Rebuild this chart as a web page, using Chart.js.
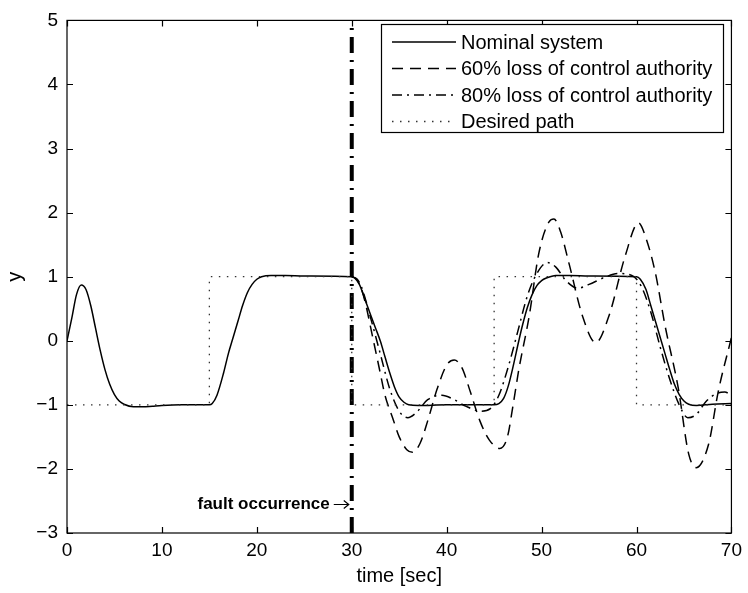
<!DOCTYPE html>
<html>
<head>
<meta charset="utf-8">
<script src="https://cdn.jsdelivr.net/npm/chart.js@4/dist/chart.umd.min.js"></script>
<style>
  html, body { margin: 0; padding: 0; background: #fff; }
  #wrap { width: 748px; height: 593px; }
</style>
</head>
<body>
<div id="wrap"><canvas id="c" width="748" height="593"></canvas></div>
<script>
// ---------- data ----------
const xTicks = [0, 10, 20, 30, 40, 50, 60, 70];
const yTicks = [-3, -2, -1, 0, 1, 2, 3, 4, 5];

const seriesNames = [
  "Nominal system",
  "60% loss of control authority",
  "80% loss of control authority",
  "Desired path"
];

const tNominal = [0, 0.5, 1, 1.5, 2, 2.5, 3, 3.5, 4, 4.5, 5, 5.5, 6, 7, 8, 9, 10, 12, 15,
  15.3, 15.8, 16.5, 17, 17.5, 18, 18.5, 19, 19.5, 20, 20.5, 21.5, 23, 25, 30,
  30.3, 30.8, 31.5, 32, 32.5, 33, 33.5, 34, 34.5, 35, 35.5, 36, 37, 40, 45,
  45.5, 46, 46.5, 47, 47.6, 48, 48.5, 49, 49.5, 50, 50.5, 51.5, 53, 55, 60,
  60.4, 61, 61.5, 62, 62.6, 63, 63.5, 64, 64.5, 65, 65.5, 66.3, 68, 70];
const yNominal = [0, 0.35, 0.72, 0.87, 0.8, 0.55, 0.2, -0.15, -0.45, -0.68, -0.84, -0.94, -0.99, -1.03, -1.03, -1.02, -1.01, -1.0, -1.0,
  -0.98, -0.85, -0.5, -0.2, 0.05, 0.3, 0.55, 0.75, 0.88, 0.96, 1.0, 1.02, 1.02, 1.01, 1.0,
  0.98, 0.88, 0.6, 0.4, 0.2, 0.0, -0.25, -0.5, -0.72, -0.88, -0.96, -1.0, -1.01, -1.0, -1.0,
  -0.98, -0.9, -0.7, -0.4, 0.0, 0.25, 0.52, 0.72, 0.86, 0.94, 0.98, 1.02, 1.02, 1.01, 1.0,
  0.96, 0.8, 0.55, 0.3, 0.0, -0.2, -0.45, -0.68, -0.84, -0.94, -0.99, -1.01, -0.99, -0.98];

const t60 = [30, 30.5, 31, 31.5, 32, 32.5, 33, 33.5, 34.3, 35, 35.8, 36.4, 37.2, 38, 39, 40, 40.8, 41.6, 42.5, 43.5, 44.5, 45.6,
  46.4, 47, 47.6, 48.7, 49.7, 50.8, 51.3, 52, 52.9, 54.3, 55.7, 57.1, 58.8, 60.2, 61, 62, 63, 64.4, 65.5, 66.3, 67.6, 68.6, 70];
const y60 = [1.0, 0.96, 0.82, 0.55, 0.2, -0.15, -0.5, -0.85, -1.2, -1.5, -1.7, -1.74, -1.6, -1.25, -0.75, -0.38, -0.3, -0.42, -0.8, -1.25, -1.55, -1.68,
  -1.5, -1.0, -0.45, 0.39, 1.36, 1.86, 1.9, 1.7, 1.2, 0.39, -0.03, 0.39, 1.32, 1.84, 1.6, 1.05, 0.24, -0.74, -1.77, -1.98, -1.61, -0.8, 0.05];

const t80 = [30, 30.5, 31, 32, 33, 34, 35, 35.9, 36.8, 38, 39.5, 40.8, 42, 43.6, 44.6, 45.5, 46.5, 47.5, 48.5, 49.5, 50.6, 51.5, 52.5, 53.8,
  55, 56.5, 58, 59.5, 60.5, 61.5, 62.5, 63.5, 64.5, 65.4, 66.3, 67.3, 68.5, 69.3, 70];
const y80 = [1.0, 0.97, 0.85, 0.35, -0.2, -0.75, -1.1, -1.2, -1.12, -0.92, -0.85, -0.92, -1.02, -1.1, -1.06, -0.85, -0.4, 0.15, 0.7, 1.05, 1.22, 1.15, 0.95, 0.82,
  0.88, 0.98, 1.05, 1.02, 0.85, 0.45, -0.1, -0.6, -1.0, -1.2, -1.15, -0.95, -0.82, -0.8, -0.85];

const tDesired = [0, 15, 15, 30, 30, 45, 45, 60, 60, 70];
const yDesired = [-1, -1, 1, 1, -1, -1, 1, 1, -1, -1];

const faultTime = 30;
const faultLabel = "fault occurrence";
const xTitle = "time [sec]";
const yTitle = "y";

// ---------- helpers ----------
const zip = (xs, ys) => xs.map((x, i) => ({ x: x, y: ys[i] }));
const FONT = "'Liberation Sans', Arial, Helvetica, sans-serif";

const styles = [
  { color: "#000", width: 1.5, dash: [] },
  { color: "#000", width: 1.5, dash: [11, 7] },
  { color: "#000", width: 1.5, dash: [10, 5, 2, 5] },
  { color: "#333", width: 1.3, dash: [1.5, 6.5] }
];

const framePlugin = {
  id: "frame",
  afterDatasetsDraw(chart) {
    const ctx = chart.ctx;
    const a = chart.chartArea;
    const xs = chart.scales.x, ys = chart.scales.y;
    ctx.save();
    ctx.strokeStyle = "#000";
    ctx.lineWidth = 1.2;
    ctx.setLineDash([]);
    ctx.strokeRect(a.left, a.top, a.right - a.left, a.bottom - a.top);
    const tl = 6;
    ctx.beginPath();
    xTicks.forEach(v => {
      const px = Math.round(xs.getPixelForValue(v)) + 0.5;
      ctx.moveTo(px, a.bottom); ctx.lineTo(px, a.bottom - tl);
      ctx.moveTo(px, a.top); ctx.lineTo(px, a.top + tl);
    });
    yTicks.forEach(v => {
      const py = Math.round(ys.getPixelForValue(v)) + 0.5;
      ctx.moveTo(a.left, py); ctx.lineTo(a.left + tl, py);
      ctx.moveTo(a.right, py); ctx.lineTo(a.right - tl, py);
    });
    ctx.stroke();

    // fault label with arrow
    const fx = xs.getPixelForValue(faultTime);
    const fy = Math.round(ys.getPixelForValue(-2.55)) + 0.5;
    ctx.fillStyle = "#000";
    ctx.textBaseline = "middle";
    ctx.textAlign = "right";
    ctx.font = "bold 17px " + FONT;
    ctx.fillText(faultLabel, fx - 22, fy);
    ctx.lineWidth = 1.2;
    ctx.beginPath();
    ctx.moveTo(fx - 18, fy); ctx.lineTo(fx - 3, fy);
    ctx.moveTo(fx - 8, fy - 4); ctx.lineTo(fx - 3, fy); ctx.lineTo(fx - 8, fy + 4);
    ctx.stroke();

    // legend box
    const bx = 381, by = 24, bw = 342, bh = 108;
    ctx.fillStyle = "#fff";
    ctx.fillRect(bx, by, bw, bh);
    ctx.lineWidth = 1.2;
    ctx.strokeRect(bx + 0.5, by + 0.5, bw, bh);
    ctx.font = "20px " + FONT;
    ctx.textAlign = "left";
    ctx.textBaseline = "middle";
    const rows = [42, 68.5, 95, 121.5];
    seriesNames.forEach((name, i) => {
      const s = styles[i];
      ctx.strokeStyle = s.color;
      ctx.lineWidth = s.width;
      ctx.setLineDash(s.dash);
      ctx.beginPath();
      ctx.moveTo(392, rows[i]); ctx.lineTo(456, rows[i]);
      ctx.stroke();
      ctx.setLineDash([]);
      ctx.fillStyle = "#000";
      ctx.fillText(name, 461, rows[i] + 1);
    });
    ctx.restore();
  }
};

const mk = (label, data, s, extra) => Object.assign({
  label: label,
  data: data,
  borderColor: s.color,
  borderWidth: s.width,
  borderDash: s.dash,
  pointRadius: 0,
  fill: false
}, extra || {});

const datasets = [
  mk(seriesNames[3], zip(tDesired, yDesired), styles[3], { tension: 0 }),
  mk(seriesNames[1], zip(t60, y60), styles[1], { cubicInterpolationMode: "monotone" }),
  mk(seriesNames[2], zip(t80, y80), styles[2], { cubicInterpolationMode: "monotone" }),
  mk(seriesNames[0], zip(tNominal, yNominal), styles[0], { cubicInterpolationMode: "monotone" }),
  mk("fault", [{ x: faultTime, y: yTicks[0] }, { x: faultTime, y: yTicks[yTicks.length - 1] }],
     { color: "#000", width: 4, dash: [16, 7, 2, 7] }, { tension: 0 })
];

new Chart(document.getElementById("c"), {
  type: "line",
  data: { datasets: datasets },
  options: {
    responsive: false,
    devicePixelRatio: 1,
    animation: false,
    layout: { padding: { top: 13, right: 15, left: 0, bottom: 0 } },
    plugins: { legend: { display: false }, tooltip: { enabled: false } },
    scales: {
      x: {
        type: "linear",
        min: 0, max: 70,
        afterBuildTicks: s => { s.ticks = xTicks.map(v => ({ value: v })); },
        afterFit: s => { s.height = 60; },
        grid: { display: false, drawTicks: false },
        border: { display: false },
        ticks: { color: "#000", padding: 6, font: { family: FONT, size: 19 }, maxRotation: 0,
                 callback: v => String(v).replace("-", "\u2212") },
        title: { display: true, text: xTitle, color: "#000", font: { family: FONT, size: 20 },
                 padding: { top: 0, bottom: 5 } }
      },
      y: {
        type: "linear",
        min: -3, max: 5,
        afterBuildTicks: s => { s.ticks = yTicks.map(v => ({ value: v })); },
        afterFit: s => { s.width = 67; },
        grid: { display: false, drawTicks: false },
        border: { display: false },
        ticks: { color: "#000", padding: 9, font: { family: FONT, size: 19 },
                 callback: v => String(v).replace("-", "\u2212") },
        title: { display: true, text: yTitle, color: "#000", font: { family: FONT, size: 20 },
                 padding: { top: 3, bottom: 0 } }
      }
    }
  },
  plugins: [framePlugin]
});
</script>
</body>
</html>
